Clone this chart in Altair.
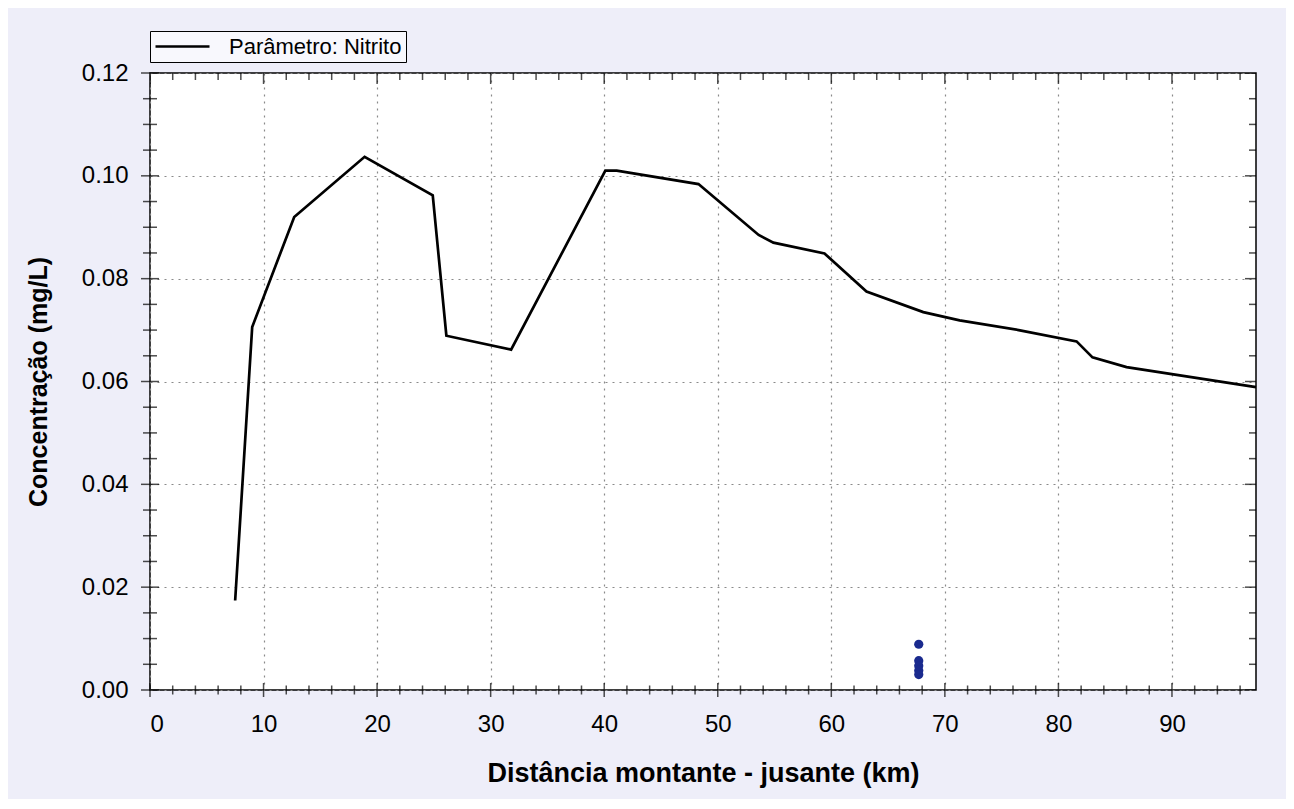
import altair as alt
import pandas as pd

# ---- data ----
dist_km = [7.5, 9.0, 12.7, 18.9, 24.9, 26.1, 31.8, 40.1, 41.1, 48.3, 53.6, 54.9,
           59.4, 63.1, 68.1, 71.3, 76.5, 81.6, 83.0, 86.0, 97.4]
nitrito = [0.0174, 0.0706, 0.0920, 0.1037, 0.0962, 0.0689, 0.0662, 0.1010, 0.1010,
           0.0984, 0.0885, 0.0870, 0.0849, 0.0775, 0.0735, 0.0719, 0.0700, 0.0678,
           0.0647, 0.0628, 0.0589]
obs_km = [67.7, 67.7, 67.7, 67.7, 67.7]
obs_val = [0.0089, 0.0057, 0.0047, 0.0038, 0.0030]
series_label = "Parâmetro: Nitrito"

x_major = [0, 10, 20, 30, 40, 50, 60, 70, 80, 90]
x_minor = [2, 4, 6, 8, 12, 14, 16, 18, 22, 24, 26, 28, 32, 34, 36, 38, 42, 44, 46, 48,
           52, 54, 56, 58, 62, 64, 66, 68, 72, 74, 76, 78, 82, 84, 86, 88, 92, 94, 96]
y_major = [0.0, 0.02, 0.04, 0.06, 0.08, 0.10, 0.12]
y_minor = [0.005, 0.01, 0.015, 0.025, 0.03, 0.035, 0.045, 0.05, 0.055, 0.065, 0.07,
           0.075, 0.085, 0.09, 0.095, 0.105, 0.11, 0.115]
x_domain = [0, 97.4]
y_domain = [0, 0.12]

FONT = "Liberation Sans"
x_title = "Distância montante - jusante (km)"
y_title = "Concentração (mg/L)"

xscale = alt.Scale(domain=x_domain, nice=False, zero=False)
yscale = alt.Scale(domain=y_domain, nice=False)

df_line = pd.DataFrame({"km": dist_km, "v": nitrito, "serie": [series_label] * len(dist_km)})
df_obs = pd.DataFrame({"km": obs_km, "v": obs_val})
df_xmaj = pd.DataFrame({"km": x_major})
df_xmin = pd.DataFrame({"km": x_minor})
df_ymaj = pd.DataFrame({"v": y_major})
df_ymin = pd.DataFrame({"v": y_minor})

x_axis = alt.Axis(values=x_major, title=x_title, grid=True, ticks=False, domain=False,
                  labelFontSize=24, labelPadding=22, titleFontSize=27, titleFontWeight="bold",
                  titlePadding=24, labelFont=FONT, titleFont=FONT, labelColor="black",
                  titleColor="black")
y_axis = alt.Axis(values=y_major, format=".2f", title=y_title, grid=True, ticks=False,
                  domain=False, labelFontSize=24, labelPadding=22, titleFontSize=25,
                  titleFontWeight="bold", titlePadding=30, labelFont=FONT, titleFont=FONT,
                  labelColor="black", titleColor="black")

line = alt.Chart(df_line).mark_line(strokeWidth=2.7).encode(
    x=alt.X("km:Q", scale=xscale, axis=x_axis, title=x_title),
    y=alt.Y("v:Q", scale=yscale, axis=y_axis, title=y_title),
    color=alt.Color("serie:N",
                    scale=alt.Scale(domain=[series_label], range=["black"]),
                    legend=alt.Legend(orient="none", legendX=0, legendY=-42, title=None,
                                      symbolType="M-2.7,0H2.7", symbolSize=400,
                                      symbolOffset=17, symbolStrokeWidth=2.7,
                                      labelFontSize=22, labelFont=FONT, labelColor="black",
                                      labelOffset=35, strokeColor="black",
                                      fillColor="#f8f8fd", padding=4, labelLimit=400)),
)

obs = alt.Chart(df_obs).mark_circle(size=85, opacity=1, color="#1a2a8e").encode(
    x=alt.X("km:Q", scale=xscale, title=x_title),
    y=alt.Y("v:Q", scale=yscale, title=y_title),
)


def xticks(df, ypos, size, clip):
    return alt.Chart(df).mark_tick(orient="vertical", size=size, thickness=1.5,
                                   color="black", clip=clip).encode(
        x=alt.X("km:Q", scale=xscale, title=x_title),
        y=alt.datum(ypos),
    )


def yticks(df, xpos, size, clip):
    return alt.Chart(df).mark_tick(orient="horizontal", size=size, thickness=1.5,
                                   color="black", clip=clip).encode(
        y=alt.Y("v:Q", scale=yscale, title=y_title),
        x=alt.datum(xpos),
    )


layers = [
    line, obs,
    xticks(df_xmaj, y_domain[0], 14, False), xticks(df_xmin, y_domain[0], 9, False),
    xticks(df_xmaj, y_domain[1], 22, True), xticks(df_xmin, y_domain[1], 14, True),
    yticks(df_ymaj, x_domain[0], 18, False), yticks(df_ymin, x_domain[0], 14, False),
    yticks(df_ymaj, x_domain[1], 22, True), yticks(df_ymin, x_domain[1], 14, True),
]

chart = alt.layer(*layers).properties(
    width=1106, height=617,
    autosize=alt.AutoSizeParams(type="none"),
    padding={"left": 142, "top": 65, "right": 30, "bottom": 109},
    background="#eeeef9",
).configure_view(
    stroke="black", strokeWidth=1.5, fill="white"
).configure_axis(
    gridDash=[2, 5], gridColor="#8a8a8a", gridWidth=1.2
)

chart.save("out.html", embed_options={"renderer": "svg", "actions": False})
